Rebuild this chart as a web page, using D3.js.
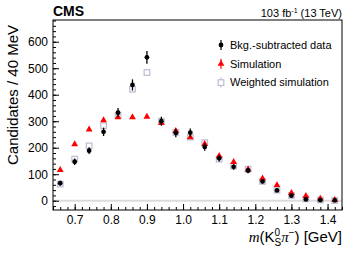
<!DOCTYPE html>
<html>
<head>
<meta charset="utf-8">
<script src="https://cdn.jsdelivr.net/npm/d3@7"></script>
<style>
    body { margin: 0; background: #ffffff; }
    text { font-family: "Liberation Sans", Arial, Helvetica, sans-serif; fill: #000; }
</style>
</head>
<body>
<div id="chart"></div>
<script>
// Bin centres of the K0S pi- mass (GeV), 40 MeV bins
const massBins = [0.66, 0.70, 0.74, 0.78, 0.82, 0.86, 0.90, 0.94, 0.98, 1.02,
                  1.06, 1.10, 1.14, 1.18, 1.22, 1.26, 1.30, 1.34, 1.38, 1.42];

// Background-subtracted data and its uncertainty
const dataValues = [66, 147, 189, 260, 332, 437, 541, 300, 256, 257,
                    203, 160, 128, 114, 73, 39, 19, 5, 2, 1];
const dataErrors = [9, 12, 13, 16, 18, 21, 24, 17, 16, 16,
                    14, 12, 11, 10, 8, 6, 4, 3, 2, 2];

// Simulation (red triangles)
const simValues = [116, 213, 269, 304, 315, 315, 317, 293, 263, 239,
                   214, 169, 146, 118, 84, 59, 29, 18, 8, 3];
const simErrors = [4, 5, 5, 5, 5, 5, 5, 5, 5, 5,
                   4, 4, 4, 4, 3, 3, 2, 2, 2, 1];

// Weighted simulation (open squares)
const weightedValues = [63, 157, 207, 283, 323, 421, 484, 300, 258, 240,
                        219, 157, 131, 119, 73, 40, 20, 7, 3, 1];

// Axis ticks
const xTicks = [0.7, 0.8, 0.9, 1.0, 1.1, 1.2, 1.3, 1.4];
const yTicks = [0, 100, 200, 300, 400, 500, 600];

const legendLabels = ["Bkg.-subtracted data", "Simulation", "Weighted simulation"];

function DrawChart() {
    const width = 357;
    const height = 257;
    const margin = { top: 20, right: 15, bottom: 47, left: 53 };
    const innerWidth = width - margin.left - margin.right;
    const innerHeight = height - margin.top - margin.bottom;

    const svg = d3.select("#chart")
        .append("svg")
        .attr("width", width)
        .attr("height", height);

    const g = svg.append("g")
        .attr("transform", `translate(${margin.left}, ${margin.top})`);

    // scales
    const x = d3.scaleLinear()
        .domain([0.64, 1.44])
        .range([0, innerWidth]);

    const y = d3.scaleLinear()
        .domain([-35, 682])
        .range([innerHeight, 0]);

    // light grey line at zero
    g.append("line")
        .attr("x1", 0)
        .attr("x2", innerWidth)
        .attr("y1", y(0))
        .attr("y2", y(0))
        .attr("stroke", "#dcdcdc")
        .attr("stroke-width", 2);

    // minor ticks (inward, no labels)
    g.append("g")
        .attr("transform", `translate(0, ${innerHeight})`)
        .call(d3.axisBottom(x).tickValues(d3.range(0.64, 1.441, 0.02)).tickSize(-3).tickFormat(""))
        .call(a => a.select(".domain").remove());

    g.append("g")
        .call(d3.axisLeft(y).tickValues(d3.range(-20, 682, 20)).tickSize(-3).tickFormat(""))
        .call(a => a.select(".domain").remove());

    // major ticks with labels
    const xAxis = g.append("g")
        .attr("transform", `translate(0, ${innerHeight})`)
        .call(d3.axisBottom(x).tickValues(xTicks).tickSize(-6).tickPadding(5).tickFormat(d3.format(".1f")));
    xAxis.select(".domain").remove();
    xAxis.selectAll("text").style("font-size", "12px").style("font-family", "Liberation Sans, Arial, sans-serif");

    const yAxis = g.append("g")
        .call(d3.axisLeft(y).tickValues(yTicks).tickSize(-6).tickPadding(5));
    yAxis.select(".domain").remove();
    yAxis.selectAll("text").style("font-size", "12px").style("font-family", "Liberation Sans, Arial, sans-serif");

    // frame
    g.append("rect")
        .attr("x", 0)
        .attr("y", 0)
        .attr("width", innerWidth)
        .attr("height", innerHeight)
        .attr("fill", "none")
        .attr("stroke", "#000")
        .attr("stroke-width", 1);

    const triangle = d3.symbol().type(d3.symbolTriangle).size(20);

    // weighted simulation - open squares
    g.selectAll(".wsim")
        .data(massBins)
        .join("rect")
        .attr("class", "wsim")
        .attr("x", (d, i) => x(d) - 2.8)
        .attr("y", (d, i) => y(weightedValues[i]) - 2.8)
        .attr("width", 5.6)
        .attr("height", 5.6)
        .attr("fill", "none")
        .attr("stroke", "#bcbcd4")
        .attr("stroke-width", 1.2);

    // simulation - red triangles with small error bars
    g.selectAll(".simErr")
        .data(massBins)
        .join("line")
        .attr("class", "simErr")
        .attr("x1", d => x(d))
        .attr("x2", d => x(d))
        .attr("y1", (d, i) => y(simValues[i] - simErrors[i]))
        .attr("y2", (d, i) => y(simValues[i] + simErrors[i]))
        .attr("stroke", "#ff0000")
        .attr("stroke-width", 1.2);

    g.selectAll(".sim")
        .data(massBins)
        .join("path")
        .attr("class", "sim")
        .attr("d", triangle)
        .attr("transform", (d, i) => `translate(${x(d)}, ${y(simValues[i])})`)
        .attr("fill", "#ff0000");

    // data - black dots with error bars
    g.selectAll(".dataErr")
        .data(massBins)
        .join("line")
        .attr("class", "dataErr")
        .attr("x1", d => x(d))
        .attr("x2", d => x(d))
        .attr("y1", (d, i) => y(dataValues[i] - dataErrors[i]))
        .attr("y2", (d, i) => y(dataValues[i] + dataErrors[i]))
        .attr("stroke", "#000")
        .attr("stroke-width", 1.3);

    g.selectAll(".data")
        .data(massBins)
        .join("circle")
        .attr("class", "data")
        .attr("cx", d => x(d))
        .attr("cy", (d, i) => y(dataValues[i]))
        .attr("r", 2.4)
        .attr("fill", "#000");

    // legend
    const legend = svg.append("g").attr("transform", "translate(221, 45)");
    legendLabels.forEach((label, i) => {
        const row = legend.append("g").attr("transform", `translate(0, ${i * 18.8})`);
        const col = i == 0 ? "#000" : (i == 1 ? "#ff0000" : "#bcbcd4");
        row.append("line")
            .attr("x1", 0).attr("x2", 0)
            .attr("y1", -5).attr("y2", 5)
            .attr("stroke", col)
            .attr("stroke-width", 1.2);
        if (i == 0) {
            row.append("circle").attr("r", 2.4).attr("fill", "#000");
        } else if (i == 1) {
            row.append("path").attr("d", triangle).attr("fill", "#ff0000");
        } else {
            row.append("rect")
                .attr("x", -2.8).attr("y", -2.8)
                .attr("width", 5.6).attr("height", 5.6)
                .attr("fill", "#fff")
                .attr("stroke", col)
                .attr("stroke-width", 1.2);
        }
        row.append("text")
            .attr("x", 9)
            .attr("dy", "0.35em")
            .style("font-size", "11px")
            .text(label);
    });

    // CMS label and luminosity
    svg.append("text")
        .attr("x", margin.left)
        .attr("y", 16)
        .style("font-size", "14px")
        .style("font-weight", "bold")
        .text("CMS");

    const lumi = svg.append("text")
        .attr("x", margin.left + innerWidth)
        .attr("y", 16.5)
        .attr("text-anchor", "end")
        .style("font-size", "11px");
    lumi.append("tspan").text("103 fb");
    lumi.append("tspan").attr("dy", -4).style("font-size", "7px").text("-1");
    lumi.append("tspan").attr("dy", 4).text(" (13 TeV)");

    // y-axis title
    svg.append("text")
        .attr("transform", `translate(18, ${margin.top + 75}) rotate(-90)`)
        .attr("text-anchor", "middle")
        .style("font-size", "15px")
        .text("Candidates / 40 MeV");

    // x-axis title m(K0S pi-) [GeV]
    const xTitle = svg.append("text")
        .attr("x", margin.left + innerWidth)
        .attr("y", 242)
        .attr("text-anchor", "end")
        .style("font-size", "15px");
    xTitle.append("tspan").style("font-family", "Liberation Serif, serif").style("font-style", "italic").text("m");
    xTitle.append("tspan").text("(K");
    xTitle.append("tspan").attr("dy", -6).style("font-size", "10px").text("0");
    xTitle.append("tspan").attr("dx", -5.6).attr("dy", 10).style("font-size", "10px").text("S");
    xTitle.append("tspan").attr("dy", -4).style("font-family", "Liberation Serif, serif").style("font-style", "italic").text("π");
    xTitle.append("tspan").attr("dy", -6).style("font-size", "10px").text("−");
    xTitle.append("tspan").attr("dy", 6).text(") [GeV]");
}

DrawChart();
</script>
</body>
</html>
